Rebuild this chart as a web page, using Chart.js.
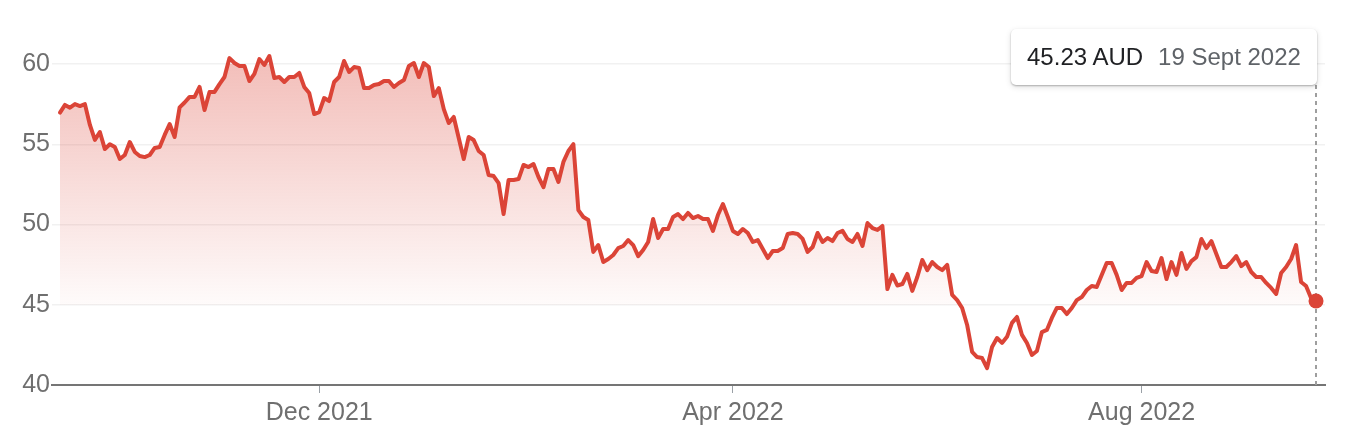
<!DOCTYPE html>
<html><head><meta charset="utf-8">
<script src="https://cdn.jsdelivr.net/npm/chart.js@4"></script>
<style>
html,body{margin:0;padding:0;background:#fff;}
#wrap{position:relative;width:1352px;height:448px;overflow:hidden;}
#tip{position:absolute;top:29px;height:56px;line-height:56px;padding:0 16px;background:#fff;border-radius:5px;
 box-shadow:0 1px 2px rgba(0,0,0,0.28),0 2px 6px rgba(0,0,0,0.12);font-family:Arial,"Liberation Sans",sans-serif;font-size:24px;white-space:nowrap;}
#tip .v{color:#202124;}
#tip .d{color:#5f6368;margin-left:15px;}
</style></head>
<body><div id="wrap"><canvas id="c" width="1352" height="448"></canvas><div id="tip"><span class="v"></span><span class="d"></span></div></div>
<script>
const prices = [
56.97,57.45,57.28,57.5,57.38,57.5,56.2,55.27,55.76,54.7,
55.0,54.83,54.08,54.33,55.14,54.52,54.27,54.2,54.33,54.77,
54.83,55.58,56.26,55.45,57.3,57.6,57.95,57.95,58.57,57.13,
58.26,58.26,58.75,59.19,60.37,60.06,59.88,59.88,58.94,59.38,
60.31,59.94,60.5,
59.13,59.19,58.88,59.19,59.19,59.44,58.57,58.19,56.88,57.0,
57.88,57.69,58.88,59.19,60.19,59.5,59.81,59.75,58.5,58.5,
58.69,58.75,58.94,58.94,58.57,58.82,59.0,59.88,60.06,59.19,
60.06,59.81,58.0,58.5,57.19,56.32,56.7,55.39,54.08,55.45,
55.26,54.58,
54.33,53.08,53.02,52.58,50.65,52.77,52.77,52.83,53.71,53.58,
53.77,52.96,52.33,53.46,53.46,52.65,53.9,54.58,55.01,50.9,
50.47,50.28,48.29,48.72,47.66,47.85,48.1,48.53,48.66,49.03,
48.72,48.03,48.41,48.91,50.34,49.16,49.72,49.72,50.47,50.65,
50.34,50.72,
50.4,50.53,50.34,50.34,49.6,50.59,51.28,50.47,49.6,49.41,
49.72,49.47,48.91,49.03,48.47,47.91,48.35,48.35,48.53,49.41,
49.47,49.41,49.1,48.29,48.6,49.47,48.91,49.16,48.97,49.47,
49.6,49.1,48.91,49.41,48.66,50.09,49.78,49.66,49.91,45.98,
46.86,46.2,
46.29,46.92,45.86,46.73,47.79,47.16,47.66,47.35,47.16,47.48,
45.61,45.29,44.8,43.74,42.06,41.74,41.68,41.05,42.37,42.93,
42.62,43.0,43.87,44.24,43.12,42.62,41.87,42.12,43.3,43.43,
44.18,44.8,44.8,44.42,44.8,45.29,45.48,45.92,46.17,46.11,
46.86,47.6,
47.6,46.86,45.92,46.36,46.36,46.67,46.79,47.66,47.1,47.04,
47.91,46.6,47.66,46.86,48.22,47.23,47.72,47.97,49.1,48.53,
48.97,48.16,47.35,47.35,47.66,48.03,47.41,47.66,47.04,46.73,
46.73,46.36,46.05,45.67,46.98,47.35,47.85,48.72,46.42,46.17,
45.42,45.23
];
const tickIndex = [52, 135, 217];
const tickLabels = ['Dec 2021', 'Apr 2022', 'Aug 2022'];
const yTicks = [40, 45, 50, 55, 60];
const currency = 'AUD';
const lastDate = '19 Sept 2022';

const last = prices.length - 1;
const FONT = 'Arial, "Liberation Sans", sans-serif';
const RED = '#db4437';

const fillGradient = (context) => {
  const chart = context.chart;
  const area = chart.chartArea;
  if (!area) return 'rgba(219,68,55,0.15)';
  const y = chart.scales.y;
  const top = y.getPixelForValue(60), cut = y.getPixelForValue(45);
  const g = chart.ctx.createLinearGradient(0, top, 0, area.bottom);
  const f = (cut - top) / (area.bottom - top);
  g.addColorStop(0, 'rgba(219,68,55,0.34)');
  g.addColorStop(f, 'rgba(219,68,55,0.025)');
  g.addColorStop(Math.min(1, f + 0.002), 'rgba(219,68,55,0)');
  g.addColorStop(1, 'rgba(219,68,55,0)');
  return g;
};

const guide = {
  id: 'guide',
  beforeDatasetsDraw(chart) {
    const ctx = chart.ctx;
    const x = chart.scales.x.getPixelForValue(last);
    ctx.save();
    ctx.strokeStyle = '#9e9e9e';
    ctx.lineWidth = 2;
    ctx.setLineDash([4, 4]);
    ctx.beginPath();
    ctx.moveTo(Math.round(x), 85);
    ctx.lineTo(Math.round(x), chart.chartArea.bottom);
    ctx.stroke();
    ctx.restore();
  },
  afterRender(chart) {
    const tip = document.getElementById('tip');
    tip.querySelector('.v').textContent = prices[last].toFixed(2) + ' ' + currency;
    tip.querySelector('.d').textContent = lastDate;
    const x = chart.scales.x.getPixelForValue(last);
    tip.style.left = (x + 1 - tip.offsetWidth) + 'px';
  }
};

new Chart(document.getElementById('c'), {
  type: 'line',
  data: {
    datasets: [{
      data: prices.map((v, i) => ({ x: i, y: v })),
      borderColor: RED,
      borderWidth: 4,
      borderJoinStyle: 'round',
      borderCapStyle: 'round',
      tension: 0,
      clip: false,
      pointRadius: (c) => c.dataIndex === last ? 7.5 : 0,
      pointBackgroundColor: RED,
      pointBorderWidth: 0,
      fill: 'origin',
      backgroundColor: fillGradient
    }]
  },
  options: {
    responsive: false,
    animation: false,
    devicePixelRatio: 1,
    layout: { padding: { top: 64, right: 27, left: 0, bottom: 0 } },
    plugins: { legend: { display: false }, tooltip: { enabled: false } },
    scales: {
      x: {
        type: 'linear',
        min: -1.605,
        max: 253.8,
        afterBuildTicks: (s) => { s.ticks = tickIndex.map(v => ({ value: v })); },
        afterFit: (s) => { s.height = 63; },
        ticks: {
          autoSkip: false, maxRotation: 0, padding: 5,
          color: '#6f6f6f', font: { family: FONT, size: 25 },
          callback: (v) => tickLabels[tickIndex.indexOf(v)]
        },
        grid: { drawOnChartArea: false, drawTicks: true, tickLength: 8, color: '#9aa0a6', lineWidth: 1 },
        border: { display: true, color: '#757575', width: 2 }
      },
      y: {
        min: 40, max: 60,
        afterBuildTicks: (s) => { s.ticks = yTicks.map(v => ({ value: v })); },
        afterFit: (s) => { s.width = 52; },
        ticks: { padding: 2, color: '#6f6f6f', font: { family: FONT, size: 25 } },
        grid: { drawTicks: false, color: '#f1f1f1', lineWidth: 1.5 },
        border: { display: false }
      }
    }
  },
  plugins: [guide]
});
</script>
</body></html>
